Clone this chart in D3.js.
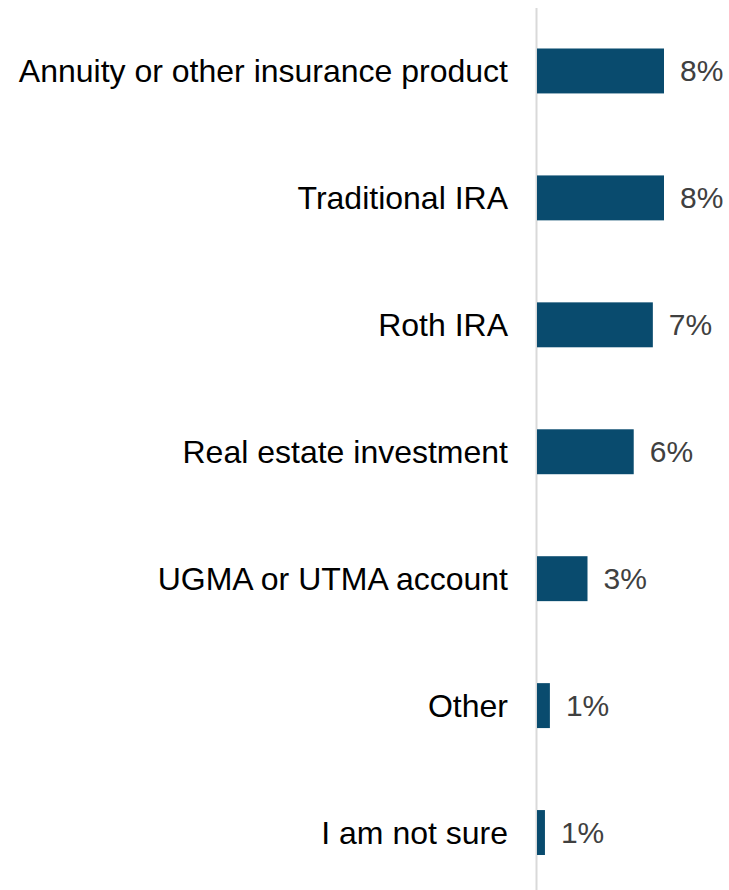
<!DOCTYPE html>
<html>
<head>
<meta charset="utf-8">
<script src="https://cdn.jsdelivr.net/npm/d3@7"></script>
<style>
  body { margin: 0; background: #fff; }
  text { font-family: "Liberation Sans", Arial, sans-serif; }
</style>
</head>
<body>
<svg id="chart"></svg>
<script>
const categories = [
  'Annuity or other insurance product',
  'Traditional IRA',
  'Roth IRA',
  'Real estate investment',
  'UGMA or UTMA account',
  'Other',
  'I am not sure'
];
const values = [8.0, 8.0, 7.3, 6.1, 3.2, 0.84, 0.53];
const valueLabels = ['8%', '8%', '7%', '6%', '3%', '1%', '1%'];

const w = 729;
const h = 890;
const axisX = 536.5;

const svg = d3.select('#chart')
  .attr('width', w)
  .attr('height', h);

const x = d3.scaleLinear()
  .domain([0, 8])
  .range([axisX, 664]);

const y = d3.scaleBand()
  .domain(categories)
  .range([7.5, 896])
  .paddingInner(0.646)
  .paddingOuter(0.323);

// axis line
svg.append('line')
  .attr('x1', axisX).attr('x2', axisX)
  .attr('y1', 8).attr('y2', h)
  .attr('stroke', '#d9d9d9')
  .attr('stroke-width', 2);

svg.append('g')
  .selectAll('rect')
  .data(categories)
  .enter().append('rect')
  .attr('x', x(0) + 0.5)
  .attr('y', function (d) { return y(d); })
  .attr('width', function (d, i) { return x(values[i]) - x(0) - 0.5; })
  .attr('height', y.bandwidth())
  .attr('fill', '#094b6e');

// category labels
svg.append('g')
  .selectAll('text')
  .data(categories)
  .enter().append('text')
  .attr('x', 508)
  .attr('y', function (d) { return y(d) + y.bandwidth() / 2; })
  .attr('dy', '0.35em')
  .attr('text-anchor', 'end')
  .attr('font-size', 32)
  .attr('fill', '#000')
  .text(function (d) { return d; });

// value labels
svg.append('g')
  .selectAll('text')
  .data(categories)
  .enter().append('text')
  .attr('x', function (d, i) { return x(values[i]) + 16; })
  .attr('y', function (d) { return y(d) + y.bandwidth() / 2; })
  .attr('dy', '0.35em')
  .attr('font-size', 30)
  .attr('fill', '#404040')
  .text(function (d, i) { return valueLabels[i]; });
</script>
</body>
</html>
